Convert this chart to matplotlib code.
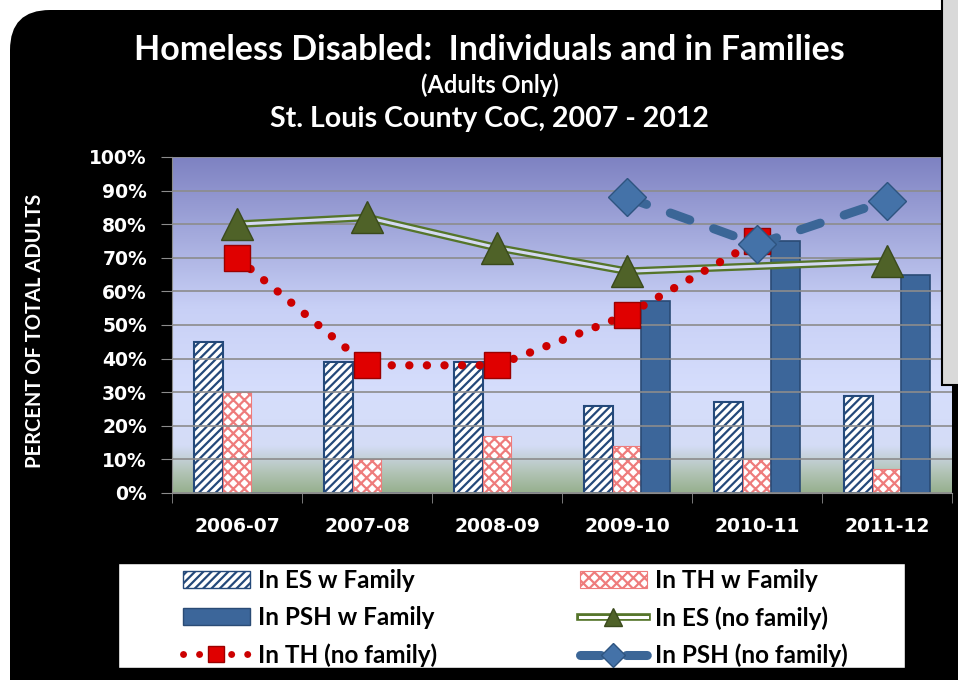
import numpy as np
import matplotlib
matplotlib.use('Agg')
from matplotlib import pyplot as plt
from matplotlib.patches import FancyBboxPatch, Rectangle, Patch
from matplotlib.lines import Line2D
from matplotlib.ticker import PercentFormatter

years = ['2006-07', '2007-08', '2008-09', '2009-10', '2010-11', '2011-12']

# bars (percent)
es_family = [45, 39, 39, 26, 27, 29]
th_family = [30, 10, 17, 14, 10, 7]
psh_family = [0, 0, 0, 57, 75, 65]

# lines (percent), years where there is a value
es_single_years = ['2006-07', '2007-08', '2008-09', '2009-10', '2011-12']
es_single = [80, 82, 73, 66, 69]
th_single_years = ['2006-07', '2007-08', '2008-09', '2009-10', '2010-11']
th_single = [70, 38, 38, 53, 75]
psh_single_years = ['2009-10', '2010-11', '2011-12']
psh_single = [88, 74, 87]

W, H = 958, 680
plt.rcParams['hatch.linewidth'] = 1.6
title_font = ['Lato', 'DejaVu Sans']

fig = plt.figure(figsize=(W / 100, H / 100), dpi=100)
fig.patch.set_facecolor('white')

# black rounded frame
frame = FancyBboxPatch((0.10, -0.6), 10.0, 6.8 - 0.10 + 0.6,
                       boxstyle='round,pad=0,rounding_size=0.4',
                       transform=fig.dpi_scale_trans, facecolor='black',
                       edgecolor='none', zorder=-5)
fig.patches.append(frame)

ax = fig.add_axes([172 / W, 1 - 493 / H, (952 - 172) / W, (493 - 157) / H])
ax.set_facecolor('none')

# background gradient of the plot area
stops_y = [0, 6, 14, 30, 55, 100]
stops_c = np.array([[150, 176, 142], [178, 196, 182], [212, 220, 246],
                    [214, 222, 252], [200, 208, 246], [126, 130, 194]]) / 255
yy = np.linspace(0, 100, 300)
grad = np.stack([np.interp(yy, stops_y, stops_c[:, k]) for k in range(3)], axis=-1)
ax.imshow(grad[::-1, None, :], extent=[-0.5, 5.5, 0, 100], aspect='auto',
          zorder=0, interpolation='bilinear')

x = np.arange(len(years))
bw = 0.223
ax.bar(x - bw, es_family, bw, facecolor='white', edgecolor='#24497A',
       hatch='////', linewidth=1.5, zorder=2)
ax.bar(x, th_family, bw, facecolor='white', edgecolor='#EE7C7C',
       hatch='xxx', linewidth=0.8, zorder=2)
ax.bar(x + bw, psh_family, bw, facecolor='#3C669A', edgecolor='#2A4B75',
       linewidth=1.2, zorder=2)

xi = {y: i for i, y in enumerate(years)}
ex = [xi[y] for y in es_single_years]
tx = [xi[y] for y in th_single_years]
px = [xi[y] for y in psh_single_years]

ax.plot(ex, es_single, color='#55752A', lw=5.5, zorder=3)
ax.plot(ex, es_single, color='#D4D9F2', lw=2.2, zorder=3.1)
ax.plot(ex, es_single, ls='none', marker='^', ms=23, mfc='#4F6228', mec='#3A4A1C',
        zorder=3.2)

ax.plot(tx, th_single, color='#CC0000', lw=6, ls=(0, (0.01, 2.1)),
        dash_capstyle='round', zorder=3.3)
ax.plot(tx, th_single, ls='none', marker='s', ms=19, mfc='#E00000', mec='#9A0000',
        zorder=3.4)

ax.plot(px, psh_single, color='#3B6697', lw=6.5, ls=(0, (2.3, 2.8)),
        dash_capstyle='round', zorder=3.5)
ax.plot(px, psh_single, ls='none', marker='D', ms=19, mfc='#4472A8', mec='#2E5480',
        zorder=3.6)

ax.set_xlim(-0.5, 5.5)
ax.set_ylim(0, 100)
ax.set_yticks(range(0, 101, 10))
ax.yaxis.set_major_formatter(PercentFormatter(decimals=0))
ax.set_xticks(x)
ax.set_xticklabels(years)
ax.set_xticks(np.arange(-0.5, 6, 1), minor=True)
ax.tick_params(axis='x', which='major', length=0, pad=17, colors='white',
               labelsize=13.5)
ax.tick_params(axis='x', which='minor', length=7, color='#8C8C8C')
ax.tick_params(axis='y', length=8, color='#8C8C8C', colors='white', labelsize=13.5,
               pad=10)
for lab in ax.get_xticklabels() + ax.get_yticklabels():
    lab.set_fontweight('bold')
    lab.set_color('white')
ax.grid(axis='y', color='#8C8C8C', lw=1.2, zorder=1)
ax.set_axisbelow(False)
for s in ['top', 'right']:
    ax.spines[s].set_visible(False)
for s in ['left', 'bottom']:
    ax.spines[s].set_color('#8C8C8C')
    ax.spines[s].set_zorder(4)
ax.set_ylabel('PERCENT OF TOTAL ADULTS', color='white', fontsize=14.5,
              fontweight='bold', family=title_font)
ax.yaxis.set_label_coords(45 / W, 1 - 331 / H, transform=fig.transFigure)

# titles
fig.text(0.511, 1 - 50 / H, 'Homeless Disabled:  Individuals and in Families',
         ha='center', va='center', color='white', fontsize=24.5, fontweight='bold',
         family=title_font)
fig.text(0.511, 1 - 85 / H, '(Adults Only)', ha='center', va='center',
         color='white', fontsize=17, fontweight='bold', family=title_font)
fig.text(0.511, 1 - 119 / H, 'St. Louis County CoC, 2007 - 2012', ha='center',
         va='center', color='white', fontsize=20.5, fontweight='bold',
         family=title_font)

# legend box
fig.patches.append(Rectangle((118 / W, 1 - 668 / H), (905 - 118) / W, (668 - 563) / H,
                             transform=fig.transFigure, facecolor='white',
                             edgecolor='black', lw=1, zorder=5))

h_es = Patch(facecolor='white', edgecolor='#24497A', hatch='////')
h_th = Patch(facecolor='white', edgecolor='#EE7C7C', hatch='xxx', lw=0.8)
h_psh = Patch(facecolor='#3C669A', edgecolor='#2A4B75')
h_es1 = (Line2D([], [], color='#55752A', lw=5.5),
         Line2D([], [], color='white', lw=2.2),
         Line2D([], [], ls='none', marker='^', ms=13, mfc='#4F6228', mec='#3A4A1C'))
h_th1 = (Line2D([], [], color='#CC0000', lw=5, ls=(0, (0.01, 2.3)),
                dash_capstyle='round'),
         Line2D([], [], ls='none', marker='s', ms=12, mfc='#E00000', mec='#9A0000'))
h_psh1 = (Line2D([], [], color='#3B6697', lw=6.5, ls=(0, (2.3, 2.8)),
                 dash_capstyle='round'),
          Line2D([], [], ls='none', marker='D', ms=12, mfc='#4472A8', mec='#2E5480'))

leg_kw = dict(loc='upper left', frameon=False, handlelength=2.75, handleheight=0.65,
              handletextpad=0.35, borderpad=0, borderaxespad=0, labelspacing=0.58,
              prop={'family': title_font, 'weight': 'bold', 'size': 17.5})
leg1 = fig.legend([h_es, h_psh, h_th1],
                  ['In ES w Family', 'In PSH w Family', 'In TH (no family)'],
                  bbox_to_anchor=(183 / W, 1 - 569 / H), **leg_kw)
leg2 = fig.legend([h_th, h_es1, h_psh1],
                  ['In TH w Family', 'In ES (no family)', 'In PSH (no family)'],
                  bbox_to_anchor=(580 / W, 1 - 569 / H), **leg_kw)
leg1.set_zorder(6)
leg2.set_zorder(6)

# grey panel at the right
fig.patches.append(Rectangle((942 / W, 1 - 385 / H), 0.05, 385 / H + 0.01,
                             transform=fig.transFigure, facecolor='#D9D9D9',
                             edgecolor='black', lw=1.5, zorder=10))

fig.savefig('out.png', dpi=100)
